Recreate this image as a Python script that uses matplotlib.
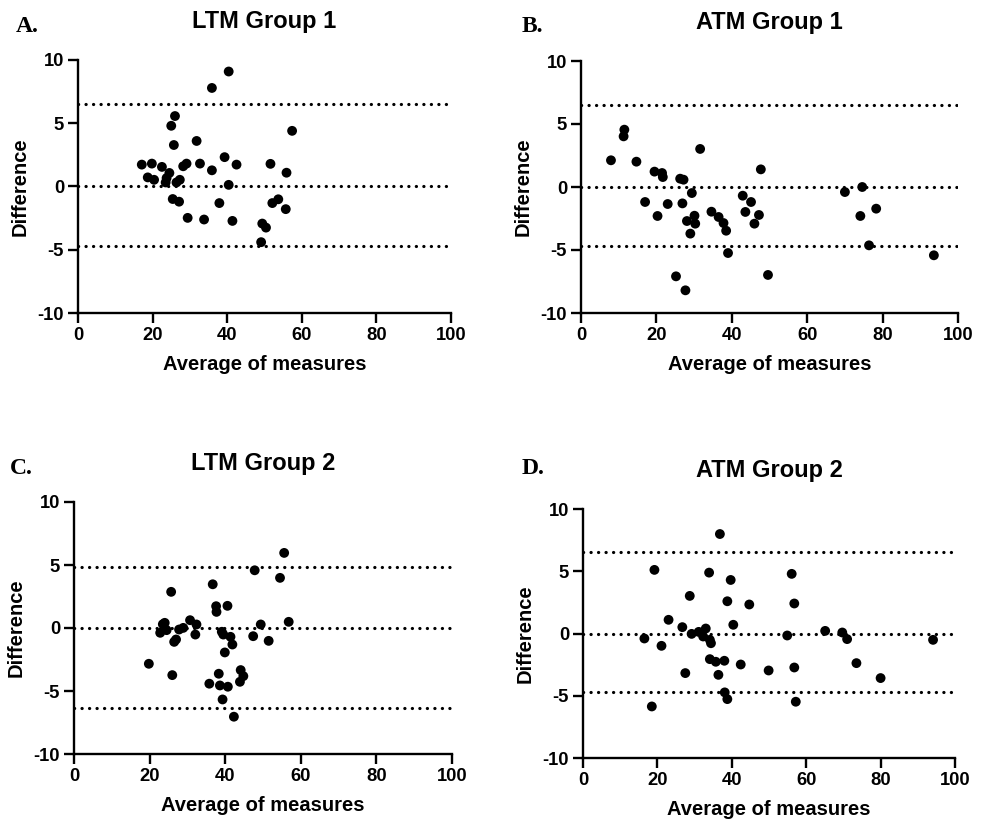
import matplotlib
matplotlib.use("Agg")
import matplotlib.pyplot as plt

# ---------------- data ----------------
titles = ["LTM Group 1", "ATM Group 1", "LTM Group 2", "ATM Group 2"]
panel_labels = ["A.", "B.", "C.", "D."]

ltm1_avg = [40.4, 35.9, 26.0, 25.0, 57.4, 31.8, 25.7, 39.3, 17.1, 19.8, 22.5, 28.2, 29.1,
            32.7, 42.5, 51.6, 35.9, 55.9, 18.7, 20.4, 24.5, 23.75, 23.5, 26.4, 27.3, 40.4,
            25.4, 27.1, 37.9, 52.1, 53.7, 55.7, 29.4, 33.8, 41.4, 49.4, 50.4, 49.1]
ltm1_diff = [9.09, 7.79, 5.57, 4.8, 4.4, 3.6, 3.28, 2.32, 1.73, 1.81, 1.55, 1.6, 1.81,
             1.81, 1.73, 1.79, 1.28, 1.09, 0.72, 0.53, 1.07, 0.67, 0.32, 0.32, 0.53, 0.13,
             -0.99, -1.2, -1.31, -1.31, -1.01, -1.79, -2.48, -2.61, -2.72, -2.93, -3.25, -4.4]
ltm1_lines = [6.5, 0.0, -4.7]

atm1_avg = [7.95, 11.5, 11.3, 14.7, 17.0, 19.5, 21.5, 21.7, 20.3, 23.0, 26.3, 27.2, 26.9,
            29.4, 31.6, 25.2, 27.7, 28.1, 29.0, 30.1, 30.3, 34.6, 36.5, 37.8, 38.5, 39.0,
            42.9, 45.1, 43.6, 46.0, 47.2, 47.7, 49.6, 70.0, 74.6, 74.1, 76.4, 78.3, 93.6]
atm1_diff = [2.12, 4.55, 4.02, 2.01, -1.19, 1.22, 1.11, 0.79, -2.30, -1.35, 0.66, 0.58, -1.30,
             -0.48, 3.02, -7.09, -8.2, -2.70, -3.70, -2.28, -2.91, -1.96, -2.38, -2.86, -3.47, -5.24,
             -0.69, -1.19, -1.98, -2.91, -2.22, 1.40, -6.98, -0.40, 0.0, -2.30, -4.63, -1.72, -5.42]
atm1_lines = [6.5, 0.0, -4.7]

ltm2_avg = [19.8, 22.8, 23.5, 24.0, 24.5, 25.7, 26.0, 26.5, 27.0, 27.8, 28.9, 30.7, 32.4,
            32.1, 35.8, 36.7, 37.6, 37.7, 38.3, 38.6, 39.1, 39.5, 39.3, 39.9, 40.6, 40.7,
            41.4, 41.9, 42.3, 44.1, 43.9, 44.8, 47.4, 47.8, 49.4, 51.5, 54.5, 55.6, 56.8]
ltm2_diff = [-2.84, -0.38, 0.30, 0.41, -0.17, 2.87, -3.74, -1.10, -0.91, -0.12, 0.01, 0.62, 0.28,
             -0.52, -4.42, 3.47, 1.73, 1.28, -3.63, -4.56, -0.30, -0.52, -5.67, -1.94, 1.76, -4.66,
             -0.70, -1.31, -7.04, -3.34, -4.27, -3.82, -0.65, 4.58, 0.28, -1.02, 3.98, 5.96, 0.49]
ltm2_lines = [4.85, 0.0, -6.38]

atm2_avg = [16.5, 18.5, 19.2, 21.1, 23.0, 26.7, 27.5, 28.7, 29.2, 31.1, 32.3, 33.0, 33.9,
            34.1, 34.4, 34.1, 35.7, 36.4, 36.8, 38.0, 38.1, 38.8, 38.8, 39.7, 40.4, 42.4,
            44.7, 49.9, 54.9, 56.1, 56.8, 56.8, 57.2, 65.1, 69.7, 71.0, 73.5, 80.0, 94.1]
atm2_diff = [-0.40, -5.86, 5.11, -0.99, 1.10, 0.51, -3.18, 3.02, -0.03, 0.13, -0.24, 0.40, 4.89,
             -0.51, -0.78, -2.06, -2.27, -3.32, 7.99, -2.19, -4.73, -5.27, 2.59, 4.30, 0.70, -2.49,
             2.33, -2.97, -0.16, 4.79, 2.41, -2.73, -5.48, 0.21, 0.08, -0.45, -2.38, -3.58, -0.51]
atm2_lines = [6.52, 0.0, -4.71]

x_ticks = [0, 20, 40, 60, 80, 100]
y_ticks = [-10, -5, 0, 5, 10]
x_label = "Average of measures"
y_label = "Difference"

panels = [
    (ltm1_avg, ltm1_diff, ltm1_lines),
    (atm1_avg, atm1_diff, atm1_lines),
    (ltm2_avg, ltm2_diff, ltm2_lines),
    (atm2_avg, atm2_diff, atm2_lines),
]

# ---------------- layout ----------------
W, H = 981, 822
# axes rectangles in pixels: left, right, top(y=10), bottom(y=-10)
rects_px = [
    (78, 451, 60, 313),
    (581, 958, 61, 313),
    (74, 452, 502, 754),
    (583, 955, 509, 758),
]
label_pos = [(16, 26), (522, 26), (10, 468), (522, 468)]

sans = ["Liberation Sans", "DejaVu Sans"]
serif = ["Liberation Serif", "DejaVu Serif"]

fig = plt.figure(figsize=(W / 100, H / 100), dpi=100)
fig.patch.set_facecolor("white")

for i, ((xs, ys, lines), (l, r, t, b)) in enumerate(zip(panels, rects_px)):
    ax = fig.add_axes([l / W, 1 - b / H, (r - l) / W, (b - t) / H])
    ax.set_xlim(0, 100)
    ax.set_ylim(-10, 10)
    for yv in lines:
        ax.plot([0, 100], [yv, yv], color="black", lw=2.3,
                linestyle=(0, (0.05, 2.3)), dash_capstyle="round", zorder=2)
    ax.scatter(xs, ys, s=50, color="black", edgecolors="none", zorder=3, clip_on=False)
    ax.spines["top"].set_visible(False)
    ax.spines["right"].set_visible(False)
    for sp in ("left", "bottom"):
        ax.spines[sp].set_linewidth(1.7)
    ax.set_xticks(x_ticks)
    ax.set_yticks(y_ticks)
    ax.set_xticklabels([str(v) for v in x_ticks])
    ax.set_yticklabels([str(v) for v in y_ticks])
    ax.tick_params(axis="both", direction="out", length=7, width=1.7, pad=3,
                   labelsize=13.2)
    for lab in ax.get_xticklabels() + ax.get_yticklabels():
        lab.set_fontweight("bold")
        lab.set_family(sans)
    ax.set_xlabel(x_label, fontsize=14.5, fontweight="bold", family=sans, labelpad=8)
    ax.set_ylabel(y_label, fontsize=14.5, fontweight="bold", family=sans, labelpad=6)
    ax.set_title(titles[i], fontsize=17, fontweight="bold", family=sans, pad=23)
    lx, ly = label_pos[i]
    fig.text(lx / W, 1 - ly / H, panel_labels[i], fontsize=17, fontweight="bold",
             family=serif, ha="left", va="center")

fig.savefig("out.png", dpi=100, facecolor="white")
